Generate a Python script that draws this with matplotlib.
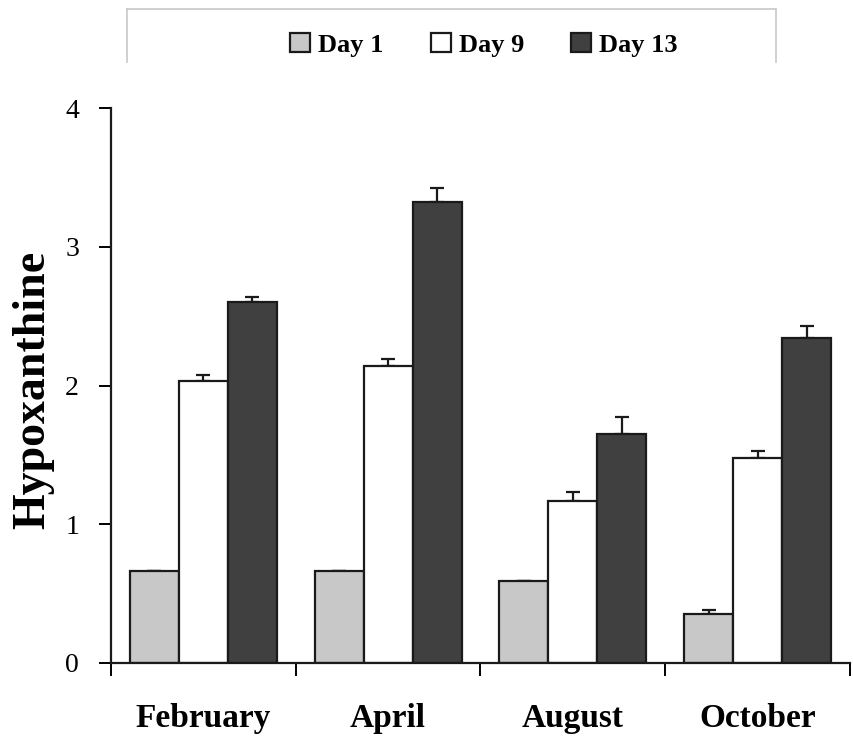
import matplotlib
matplotlib.use("Agg")
import matplotlib.pyplot as plt
import numpy as np
from matplotlib.lines import Line2D

categories = ["February", "April", "August", "October"]
series = ["Day 1", "Day 9", "Day 13"]
day1 = [0.66, 0.66, 0.59, 0.35]
day9 = [2.03, 2.14, 1.17, 1.48]
day13 = [2.60, 3.32, 1.65, 2.34]
err1 = [0.0, 0.0, 0.0, 0.035]
err9 = [0.045, 0.05, 0.065, 0.05]
err13 = [0.035, 0.10, 0.12, 0.09]
yticks = [0, 1, 2, 3, 4]

colors = ["#c8c8c8", "#ffffff", "#404040"]

plt.rcParams['font.family'] = ['Liberation Serif', 'DejaVu Serif']

fig = plt.figure(figsize=(8.54, 7.56), dpi=100)
ax = fig.add_axes([111/854, 1-663/756, (850-111)/854, (663-108)/756])

x = np.arange(len(categories))
w = 0.265
vals = [day1, day9, day13]
errs = [err1, err9, err13]
for i, (v, e, c, s) in enumerate(zip(vals, errs, colors, series)):
    pos = x + (i - 1) * w
    ax.bar(pos, v, width=w, color=c, edgecolor="#1a1a1a", linewidth=1.6, label=s, zorder=2)
    ax.errorbar(pos, v, yerr=[np.zeros(len(v)), e], fmt="none", ecolor="#1a1a1a",
                elinewidth=1.6, capsize=5, capthick=1.6, zorder=1)

ax.set_xlim(-0.5, len(categories) - 0.5)
ax.set_ylim(0, 4)
ax.set_yticks(yticks)
ax.set_yticklabels([str(t) for t in yticks], fontsize=20)
ax.set_xticks(np.arange(len(categories) + 1) - 0.5)
ax.set_xticklabels([])
ax.set_xticks(x, minor=True)
ax.set_xticklabels(categories, minor=True, fontsize=24, fontweight="bold")
ax.tick_params(axis="x", which="minor", length=0, pad=29)
ax.tick_params(axis="x", which="major", length=9, width=1.4, direction="out")
ax.tick_params(axis="y", length=9, width=1.4, direction="out", pad=14)
for sp in ["top", "right"]:
    ax.spines[sp].set_visible(False)
for sp in ["left", "bottom"]:
    ax.spines[sp].set_linewidth(1.6)
    ax.spines[sp].set_color("#1a1a1a")

fig.text(33/854, 1-390/756, "Hypoxanthine", fontsize=33, fontweight="bold",
         rotation=90, ha="center", va="center")

# legend box (partially visible frame)
ec = "#c8c8c8"
fig.add_artist(Line2D([127/854, 776/854], [1-9/756, 1-9/756], color=ec, lw=1.2))
fig.add_artist(Line2D([127/854, 127/854], [1-9/756, 1-62/756], color=ec, lw=1.2))
fig.add_artist(Line2D([776/854, 776/854], [1-9/756, 1-62/756], color=ec, lw=1.2))

handles, labels = ax.get_legend_handles_labels()
fig.legend(handles, labels, loc="center", bbox_to_anchor=(484/854, 1-45/756), ncol=3,
           frameon=False, prop={"size": 19, "weight": "bold"},
           handlelength=0.75, handleheight=0.75, handletextpad=0.3, columnspacing=1.8)

fig.savefig("out.png", dpi=100)
